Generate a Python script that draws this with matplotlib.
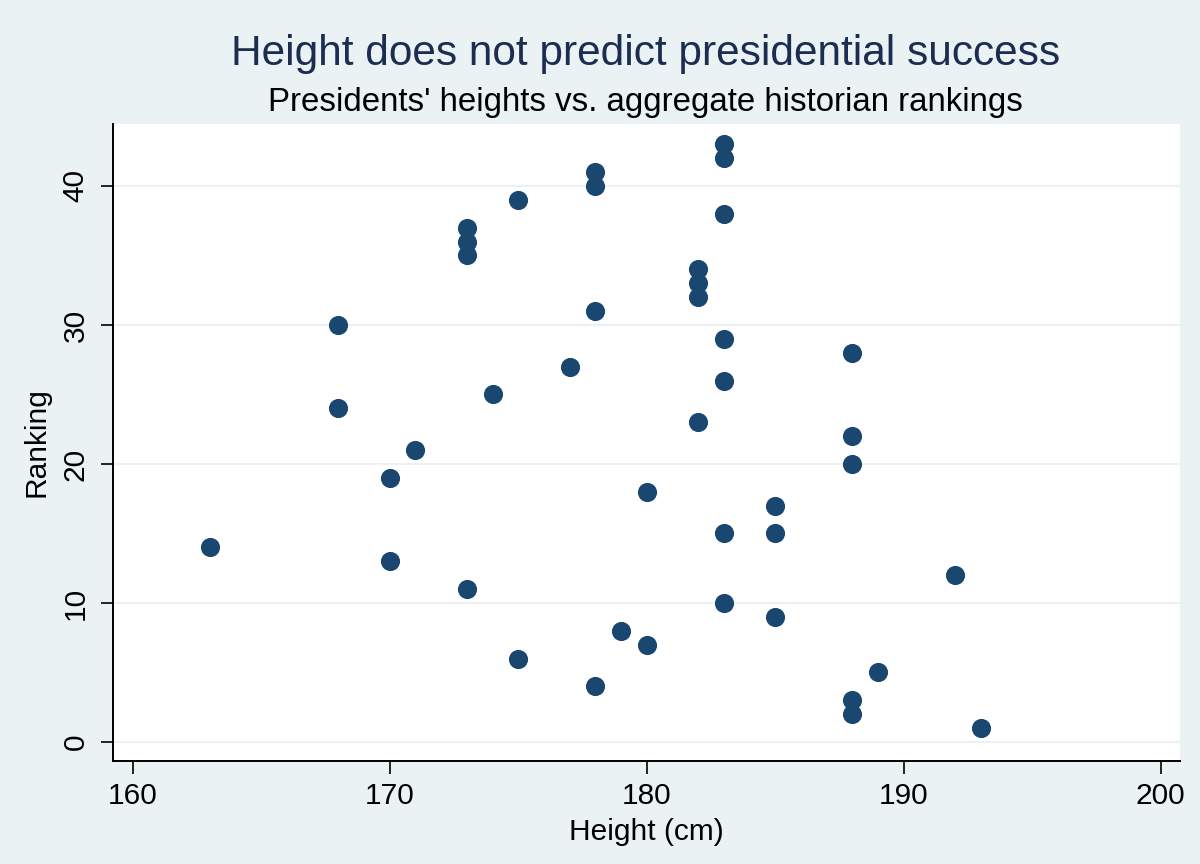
import matplotlib.pyplot as plt

# Presidents' heights (cm) and aggregate historian ranking
height = [163, 168, 168, 170, 170, 171, 173, 173, 173, 173, 174, 175, 175,
          177, 178, 178, 178, 178, 179, 180, 180, 182, 182, 182, 182,
          183, 183, 183, 183, 183, 183, 183, 185, 185, 185,
          188, 188, 188, 188, 188, 189, 192, 193]
ranking = [14, 30, 24, 19, 13, 21, 37, 36, 35, 11, 25, 39, 6,
           27, 41, 40, 31, 4, 8, 18, 7, 34, 33, 32, 23,
           43, 42, 38, 29, 26, 15, 10, 17, 15, 9,
           28, 22, 20, 3, 2, 5, 12, 1]

x_ticks = [160, 170, 180, 190, 200]
y_ticks = [0, 10, 20, 30, 40]

bg = '#eaf2f3'
navy = '#1a476f'

plt.rcParams['font.family'] = ['Liberation Sans', 'DejaVu Sans']

fig = plt.figure(figsize=(12, 8.64), dpi=100, facecolor=bg)
ax = fig.add_axes([0.0942, 0.1192, 0.8891, 0.7373])
ax.set_facecolor('white')

ax.scatter(height, ranking, s=190, color=navy, zorder=3, linewidths=0)

ax.set_xlim(159.23, 200.75)
ax.set_ylim(-1.37, 44.46)
ax.set_xticks(x_ticks)
ax.set_yticks(y_ticks)
ax.set_yticklabels([str(v) for v in y_ticks], rotation=90, va='center')
ax.tick_params(axis='both', labelsize=21.5, length=9, width=1.2, direction='out', color='black')
ax.tick_params(axis='x', pad=6)
ax.tick_params(axis='y', pad=8)
ax.grid(axis='y', color=bg, linewidth=1.5, zorder=0)

for side in ['top', 'right']:
    ax.spines[side].set_visible(False)
for side in ['left', 'bottom']:
    ax.spines[side].set_linewidth(1.4)

ax.set_xlabel('Height (cm)', fontsize=21.5, labelpad=6)
ax.set_ylabel('Ranking', fontsize=21.5, labelpad=8)

fig.text(0.538, 0.925, 'Height does not predict presidential success',
         ha='center', va='baseline', fontsize=30.5, color='#1c2d52')
fig.text(0.538, 0.871, "Presidents' heights vs. aggregate historian rankings",
         ha='center', va='baseline', fontsize=23.8, color='black')

fig.savefig('out.png', dpi=100, facecolor=bg)
